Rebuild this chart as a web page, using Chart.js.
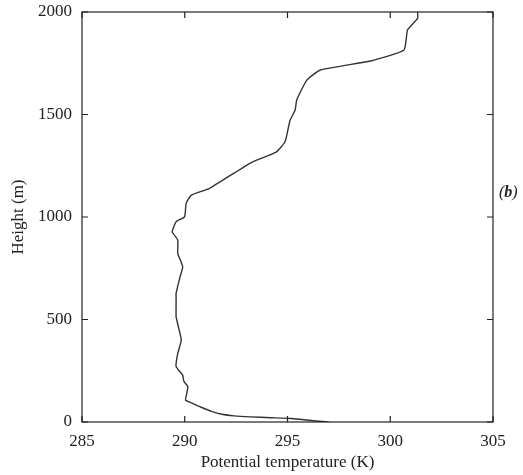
<!DOCTYPE html>
<html>
<head>
<meta charset="utf-8">
<script src="https://cdn.jsdelivr.net/npm/chart.js@4/dist/chart.umd.min.js"></script>
<style>
  html,body{margin:0;padding:0;background:#fff;}
  #wrap{position:relative;width:523px;height:475px;}
  #lbl{position:absolute;left:499px;top:183px;font:italic 16px "Liberation Serif",serif;color:#222;}
</style>
</head>
<body>
<div id="wrap">
  <canvas id="c" width="523" height="475"></canvas>
  <div id="lbl">(<b>b</b>)</div>
</div>
<script>
const heights = [0,5,17,21,25,30,38,52,72,90,107,140,172,200,229,270,330,400,460,514,595,628,700,758,823,888,928,977,1001,1067,1107,1140,1262,1318,1367,1440,1473,1522,1571,1668,1717,1761,1815,1912,1969,2000];
const theta   = [297.0,296.4,295.2,294.2,293.2,292.4,291.8,291.3,290.8,290.4,290.04,290.1,290.15,289.95,289.9,289.58,289.65,289.83,289.7,289.58,289.58,289.58,289.75,289.9,289.66,289.66,289.39,289.58,289.99,290.07,290.32,291.21,293.17,294.47,294.88,295.05,295.13,295.37,295.45,295.94,296.6,299.04,300.67,300.84,301.33,301.33];
const xTicks = [285,290,295,300,305];
const yTicks = [0,500,1000,1500,2000];

const points = heights.map((h,i)=>({x:theta[i], y:h}));
const FONT = {family:'"Liberation Serif", serif', size:17};

const frame = {
  id:'frame',
  afterDraw(chart){
    const {ctx, chartArea:a, scales:{x,y}} = chart;
    ctx.save();
    ctx.strokeStyle='#222'; ctx.lineWidth=1.2;
    ctx.strokeRect(a.left, a.top, a.right-a.left, a.bottom-a.top);
    const L=6;
    ctx.beginPath();
    xTicks.forEach(v=>{const px=x.getPixelForValue(v);
      ctx.moveTo(px,a.bottom); ctx.lineTo(px,a.bottom-L);
      ctx.moveTo(px,a.top); ctx.lineTo(px,a.top+L);});
    yTicks.forEach(v=>{const py=y.getPixelForValue(v);
      ctx.moveTo(a.left,py); ctx.lineTo(a.left+L,py);
      ctx.moveTo(a.right,py); ctx.lineTo(a.right-L,py);});
    ctx.stroke();
    ctx.restore();
  }
};

new Chart(document.getElementById('c'), {
  type:'scatter',
  data:{datasets:[{data:points, showLine:true, borderColor:'#333', borderWidth:1.4, pointRadius:0, tension:0.15, fill:false}]},
  options:{
    responsive:false, animation:false,
    layout:{padding:{top:12,right:30,left:0,bottom:0}},
    plugins:{legend:{display:false}, tooltip:{enabled:false}},
    scales:{
      x:{type:'linear', min:285, max:305,
        afterBuildTicks(s){s.ticks = xTicks.map(v=>({value:v}));},
        afterFit(s){s.height=53; s.paddingLeft=0; s.paddingRight=0;},
        grid:{display:false, drawTicks:false},
        border:{display:false},
        ticks:{font:FONT, color:'#222', padding:9, maxRotation:0, callback:v=>String(v)},
        title:{display:true, text:'Potential temperature (K)', font:FONT, color:'#222', padding:{top:0,bottom:2}}
      },
      y:{type:'linear', min:0, max:2000,
        afterBuildTicks(s){s.ticks = yTicks.map(v=>({value:v}));},
        afterFit(s){s.width=82; s.paddingTop=0; s.paddingBottom=0;},
        grid:{display:false, drawTicks:false},
        border:{display:false},
        ticks:{font:FONT, color:'#222', padding:10, callback:v=>String(v)},
        title:{display:true, text:'Height (m)', font:FONT, color:'#222', padding:{top:8,bottom:0}}
      }
    }
  },
  plugins:[frame]
});
</script>
</body>
</html>
